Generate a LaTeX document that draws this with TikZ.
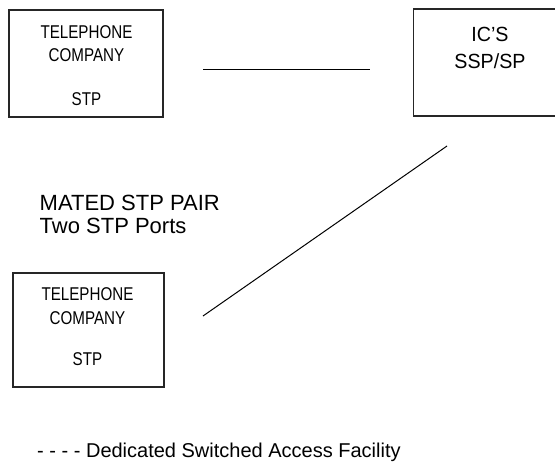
\documentclass[tikz,border=0pt]{standalone}
\usepackage{fontspec}
\setmainfont{Liberation Sans}
\newfontfamily\boxfont[FakeStretch=0.82]{Liberation Sans}
\newfontfamily\labfont[FakeStretch=0.96]{Liberation Sans}
\newfontfamily\legfont{Liberation Sans}
\begin{document}
\begin{tikzpicture}[x=1pt,y=-1pt,
  box/.style={draw=black!85,line width=1.3pt,rectangle,inner sep=0pt},
  boxtxt/.style={anchor=base,inner sep=0pt,font=\boxfont\fontsize{18.5}{20}\selectfont},
  labtxt/.style={anchor=base west,inner sep=0pt,font=\legfont\fontsize{22}{24}\selectfont},
  link/.style={draw=black,line width=1pt}]
\useasboundingbox (0,0) rectangle (555,464);
% boxes
\node[box,minimum width=154pt,minimum height=107pt] (tc1) at (86,63.5) {};
\node[box,minimum width=142pt,minimum height=107pt] (ic) at (484.5,62.5) {};
\node[box,minimum width=151pt,minimum height=114pt] (tc2) at (88.5,330) {};
% box texts
\node[boxtxt] (t1a) at (86.5,38.5) {TELEPHONE};
\node[boxtxt] (t1b) at (86.5,61) {COMPANY};
\node[boxtxt] (t1c) at (86.5,105) {STP};
\node[boxtxt] (t2a) at (87.5,300) {TELEPHONE};
\node[boxtxt] (t2b) at (87.5,324) {COMPANY};
\node[boxtxt] (t2c) at (87.5,365) {STP};
\node[boxtxt,font=\labfont\fontsize{20.5}{22}\selectfont] (ica) at (490,41.7) {IC’S};
\node[boxtxt,font=\labfont\fontsize{20.5}{22}\selectfont] (icb) at (490,68) {SSP/SP};
% labels
\node[labtxt] (mated) at (39.5,210.7) {MATED STP PAIR};
\node[labtxt] (ports) at (39.5,233) {Two STP Ports};
\node[labtxt,font=\legfont\fontsize{20}{22}\selectfont] (legend) at (37,457) {- - - - Dedicated Switched Access Facility};
% connectors
\coordinate (h1) at (203,69);
\coordinate (h2) at (370,69);
\coordinate (d1) at (447,146);
\coordinate (d2) at (203,316);
\draw[link] (h1) -- (h2);
\draw[link] (d1) -- (d2);
\end{tikzpicture}
\end{document}
